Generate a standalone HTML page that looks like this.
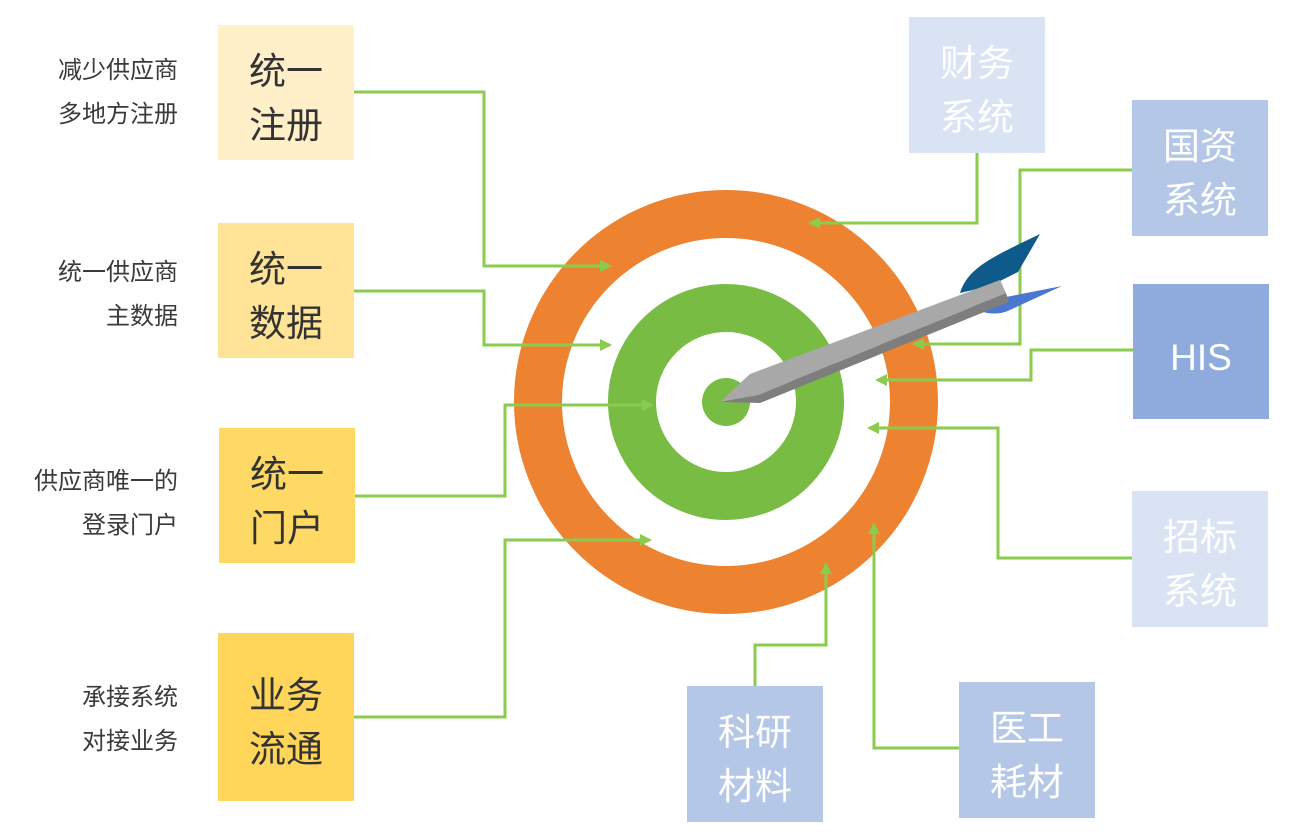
<!DOCTYPE html>
<html><head><meta charset="utf-8"><style>
body{margin:0;width:1305px;height:840px;background:#fff;position:relative;overflow:hidden;font-family:"Liberation Sans","Noto Sans CJK SC",sans-serif}
.b{position:absolute;display:flex;align-items:center;justify-content:center;text-align:center;font-size:37px;line-height:54px;box-sizing:border-box;padding-top:12px}
.l{position:absolute;right:1127px;text-align:right;font-size:24px;line-height:44px;color:#3a3a3a;white-space:nowrap}
</style></head><body>
<svg width="1305" height="840" style="position:absolute;left:0;top:0">
<defs>
<marker id="m" markerWidth="14" markerHeight="14" refX="10" refY="7" orient="auto" markerUnits="userSpaceOnUse"><path d="M0,1 L12,7 L0,13z" fill="#8BCB4E"/></marker></defs>
<circle cx="726" cy="402" r="188" fill="none" stroke="#ED8330" stroke-width="48"/>
<circle cx="726" cy="402" r="94" fill="none" stroke="#78BC43" stroke-width="48"/>
<circle cx="726" cy="402" r="24" fill="#78BC43"/>
<g fill="none" stroke="#8BCB4E" stroke-width="3">
<polyline points="354,92 484,92 484,266 610,266" marker-end="url(#m)"/>
<polyline points="354,291 484,291 484,345 610,345" marker-end="url(#m)"/>
<polyline points="354,496 505,496 505,405 652,405" marker-end="url(#m)"/>
<polyline points="354,717 505,717 505,540 650,540" marker-end="url(#m)"/>
<polyline points="977,153 977,223 810,223" marker-end="url(#m)"/>
<polyline points="1132,170 1020,170 1020,344 914,344" marker-end="url(#m)"/>
<polyline points="1133,350 1031,350 1031,380 877,380" marker-end="url(#m)"/>
<polyline points="1132,558 998,558 998,428 869,428" marker-end="url(#m)"/>
<polyline points="755,686 755,645 826,645 826,564" marker-end="url(#m)"/>
<polyline points="959,748 874,748 874,524" marker-end="url(#m)"/>
</g>
<path d="M960,293 C968,268 990,258 1040,234 L1018,272 L990,286z" fill="#0E5A8A"/>
<path d="M965,305 L1062,286 L1012,309 C995,318 980,312 965,305z" fill="#4A78D0"/>
<polygon points="720,402 750,374 1000,280 1006,293 758,395" fill="#A8A8A8"/>
<polygon points="720,402 758,395 1006,293 1009,302 760,403" fill="#7E7E7E"/>
</svg>
<div class="l" style="top:49px">减少供应商<br>多地方注册</div>
<div class="l" style="top:251px">统一供应商<br>主数据</div>
<div class="l" style="top:460px">供应商唯一的<br>登录门户</div>
<div class="l" style="top:676px">承接系统<br>对接业务</div>
<div class="b" style="left:218px;top:25px;width:136px;height:135px;background:#FFF0C9;color:#333">统一<br>注册</div>
<div class="b" style="left:218px;top:223px;width:136px;height:135px;background:#FFE497;color:#333">统一<br>数据</div>
<div class="b" style="left:219px;top:428px;width:136px;height:135px;background:#FFD965;color:#333">统一<br>门户</div>
<div class="b" style="left:218px;top:633px;width:136px;height:168px;background:#FFD65A;color:#333">业务<br>流通</div>
<div class="b" style="left:909px;top:17px;width:136px;height:136px;background:#DAE3F3;color:#fff">财务<br>系统</div>
<div class="b" style="left:1132px;top:100px;width:136px;height:136px;background:#B4C7E7;color:#fff">国资<br>系统</div>
<div class="b" style="left:1133px;top:284px;width:136px;height:135px;background:#8FAADC;color:#fff">HIS</div>
<div class="b" style="left:1132px;top:491px;width:136px;height:136px;background:#DAE3F3;color:#fff">招标<br>系统</div>
<div class="b" style="left:687px;top:686px;width:136px;height:136px;background:#B4C7E7;color:#fff">科研<br>材料</div>
<div class="b" style="left:959px;top:682px;width:136px;height:136px;background:#B4C7E7;color:#fff">医工<br>耗材</div>
</body></html>
